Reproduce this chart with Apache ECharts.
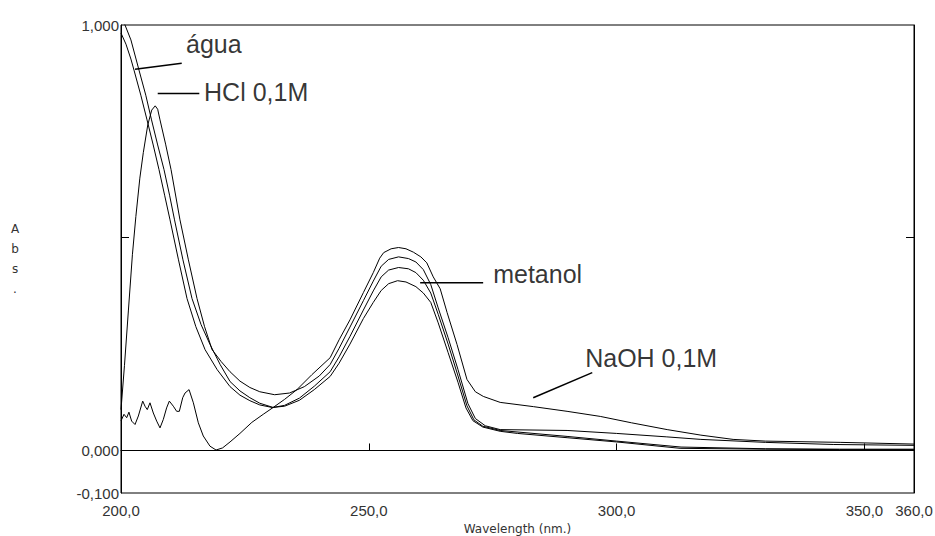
<!DOCTYPE html>
<html><head><meta charset="utf-8">
<script src="https://cdn.jsdelivr.net/npm/echarts@6/dist/echarts.min.js"></script>
<style>html,body{margin:0;padding:0;background:#fff}#c{width:935px;height:536px}</style>
</head><body><div id="c"></div>
<script>
// ---- água ----
const wlAgua = [200, 201, 202, 202.62, 204, 205.25, 206.5, 207.67, 208.8, 209.89, 211.6, 213.32, 215.1, 216.96, 219.4, 222, 224, 226, 228, 230.5, 233, 236, 239, 242.2, 244, 246.2, 248.9, 250.9, 252.5, 254, 255.8, 257.5, 259.5, 261, 262.5, 264, 266, 268, 269.6, 271, 273, 276.5, 280, 290, 300, 312.8, 330, 345, 360];
const absAgua = [0.981, 0.955, 0.92, 0.894, 0.835, 0.777, 0.718, 0.660, 0.600, 0.542, 0.448, 0.357, 0.291, 0.237, 0.190, 0.150, 0.130, 0.117, 0.107, 0.101, 0.104, 0.118, 0.143, 0.174, 0.205, 0.25, 0.31, 0.348, 0.376, 0.392, 0.399, 0.396, 0.385, 0.37, 0.348, 0.30, 0.23, 0.16, 0.10, 0.07, 0.055, 0.045, 0.040, 0.030, 0.020, 0.005, 0.003, 0.002, 0.002];
// ---- HCl 0,1M ----
const wlHCl = [200, 200.81, 202, 203.63, 205, 206.16, 207.4, 208.68, 209.8, 210.8, 212.5, 214.33, 216.15, 217.97, 220, 222, 224, 226, 228, 230.7, 233, 236, 239, 242.2, 244, 246.2, 248.9, 250.9, 252.5, 254, 256, 258, 259.5, 261, 262.5, 264, 266, 268, 269.8, 271.2, 273, 276.5, 290, 300, 313, 330, 345, 360];
const absHCl = [1.02, 1.0, 0.965, 0.894, 0.835, 0.777, 0.718, 0.660, 0.600, 0.542, 0.448, 0.357, 0.296, 0.249, 0.202, 0.162, 0.140, 0.124, 0.111, 0.101, 0.106, 0.123, 0.151, 0.185, 0.22, 0.268, 0.33, 0.375, 0.408, 0.424, 0.430, 0.427, 0.418, 0.40, 0.37, 0.32, 0.25, 0.175, 0.105, 0.072, 0.057, 0.047, 0.033, 0.022, 0.008, 0.004, 0.003, 0.003];
// ---- metanol ----
const wlMetanol = [200, 200.7, 201.5, 202.3, 203, 203.8, 204.5, 205.4, 206.2, 206.9, 207.4, 207.87, 209, 210.1, 211.9, 213.6, 215.34, 216.86, 218.37, 220.2, 222, 224, 226, 228, 231, 234, 237, 240, 242.2, 244, 246.2, 248.9, 250.9, 252.5, 254, 256, 258, 259.5, 261, 262.5, 264, 266, 268, 270, 271.5, 273.5, 276.5, 290, 300, 310, 317, 330, 343.7, 360];
const absMetanol = [0.096, 0.20, 0.33, 0.46, 0.55, 0.64, 0.70, 0.765, 0.80, 0.81, 0.802, 0.777, 0.72, 0.660, 0.542, 0.448, 0.357, 0.291, 0.237, 0.209, 0.185, 0.163, 0.148, 0.138, 0.131, 0.135, 0.15, 0.175, 0.202, 0.24, 0.29, 0.352, 0.398, 0.433, 0.449, 0.455, 0.451, 0.443, 0.425, 0.39, 0.335, 0.265, 0.19, 0.11, 0.075, 0.058, 0.049, 0.047, 0.040, 0.032, 0.026, 0.019, 0.014, 0.012];
// ---- NaOH 0,1M ----
const wlNaOH = [200, 200.14, 200.6, 201.15, 201.6, 202.15, 202.83, 203.5, 204.38, 204.84, 205.3, 205.85, 206.52, 207.2, 207.87, 208.54, 209.2, 209.75, 210.56, 211.23, 211.77, 212.45, 212.92, 213.73, 214.6, 215.6, 216.6, 217.96, 219.18, 220.5, 222, 224, 226.4, 228.7, 230.7, 233, 235.5, 238.5, 242.2, 244, 246.2, 248.9, 250.9, 252.2, 253, 254.5, 256, 257.5, 259, 260.5, 261.7, 263, 264.4, 265.8, 267.8, 269.8, 271.5, 273.1, 276.5, 283.2, 290, 296.7, 303, 310.2, 317, 323.5, 330, 345.1, 360];
const absNaOH = [0.07, 0.073, 0.085, 0.077, 0.090, 0.069, 0.061, 0.081, 0.116, 0.104, 0.096, 0.112, 0.088, 0.069, 0.053, 0.073, 0.100, 0.116, 0.104, 0.092, 0.092, 0.124, 0.135, 0.143, 0.112, 0.065, 0.034, 0.010, 0.001, 0.006, 0.020, 0.040, 0.066, 0.085, 0.101, 0.120, 0.143, 0.178, 0.218, 0.26, 0.307, 0.371, 0.418, 0.452, 0.465, 0.474, 0.477, 0.474, 0.466, 0.455, 0.441, 0.408, 0.38, 0.324, 0.249, 0.167, 0.138, 0.127, 0.113, 0.103, 0.092, 0.080, 0.065, 0.049, 0.036, 0.026, 0.022, 0.019, 0.015];

// ---- axis ticks / labels ----
const xLabelValues = [200, 250, 300, 350, 360];
const xTickValues = [250, 300, 350];
const yLabelValues = [-0.1, 0, 1];
const yTickValues = [0.5];

// ---- annotations (data units) ----
const annoNames = ['água', 'HCl 0,1M', 'metanol', 'NaOH 0,1M'];
const annoX = [213.12, 216.75, 275.09, 293.66];
const annoY = [0.955, 0.843, 0.4155, 0.218];
const leaderX1 = [202.83, 207.41, 260.36, 283.17];
const leaderY1 = [0.896, 0.839, 0.394, 0.124];
const leaderX2 = [212.25, 215.8, 273.07, 295.08];
const leaderY2 = [0.910, 0.839, 0.394, 0.183];

const zip = (a, b) => a.map((x, i) => [x, b[i]]);
const chart = echarts.init(document.getElementById('c'), null, {renderer: 'svg'});
const tickFont = {color: '#333', fontSize: 15, fontFamily: 'Liberation Sans'};
const curve = (name, wl, ab) => ({
  name, type: 'line', data: zip(wl, ab), showSymbol: false, symbol: 'none',
  lineStyle: {color: '#000', width: 1}, silent: true, z: 3
});
const series = [
  curve('água', wlAgua, absAgua),
  curve('HCl 0,1M', wlHCl, absHCl),
  curve('metanol', wlMetanol, absMetanol),
  Object.assign(curve('NaOH 0,1M', wlNaOH, absNaOH), {
    markLine: {silent: true, symbol: ['none', 'none'], label: {show: false},
      lineStyle: {color: '#000', width: 1, type: 'solid'}, data: [{yAxis: 0}], animation: false}
  })
];
annoNames.forEach((n, i) => {
  series.push({type: 'line', data: [[leaderX1[i], leaderY1[i]], [leaderX2[i], leaderY2[i]]],
    showSymbol: false, symbol: 'none', lineStyle: {color: '#000', width: 1.5}, silent: true, z: 4});
});
series.push({type: 'scatter', symbolSize: 0, silent: true, z: 5,
  data: annoNames.map((n, i) => [annoX[i], annoY[i], n]),
  label: {show: true, position: 'right', distance: 0, formatter: p => p.data[2],
    color: '#000', fontSize: 25, fontFamily: 'Liberation Sans'}});

chart.setOption({
  animation: false,
  backgroundColor: '#fff',
  grid: {left: 121, right: 21, top: 25, bottom: 43, containLabel: false, outerBoundsMode: 'none',
    show: true, borderColor: '#000', borderWidth: 1, backgroundColor: 'transparent'},
  xAxis: {
    type: 'value', min: 200, max: 360, interval: 50,
    axisLine: {show: true, lineStyle: {color: '#000', width: 1}},
    axisTick: {show: true, inside: true, length: 7, customValues: xTickValues, lineStyle: {color: '#000'}},
    axisLabel: Object.assign({customValues: xLabelValues, margin: 10,
      formatter: v => v.toFixed(1).replace('.', ',')}, tickFont),
    splitLine: {show: false},
    name: 'Wavelength (nm.)', nameLocation: 'middle', nameGap: 26,
    nameTextStyle: {color: '#333', fontSize: 12, fontFamily: 'DejaVu Sans'}
  },
  yAxis: [{
    type: 'value', min: -0.1, max: 1, interval: 0.1,
    axisLine: {show: true, lineStyle: {color: '#000', width: 1}},
    axisTick: {show: true, inside: true, length: 8, customValues: yTickValues, lineStyle: {color: '#000'}},
    axisLabel: Object.assign({customValues: yLabelValues, margin: 2,
      formatter: v => v.toFixed(3).replace('.', ',')}, tickFont),
    splitLine: {show: false},
    name: 'A\nb\ns\n.', nameLocation: 'middle', nameGap: 106, nameRotate: 0,
    nameTextStyle: {color: '#333', fontSize: 12, fontFamily: 'DejaVu Sans', align: 'center', verticalAlign: 'middle', lineHeight: 20, padding: [8, 0, 0, 0]}
  }, {
    type: 'value', min: -0.1, max: 1, interval: 0.1, position: 'right',
    axisLine: {show: true, lineStyle: {color: '#000', width: 1}},
    axisTick: {show: true, inside: true, length: 8, customValues: yTickValues, lineStyle: {color: '#000'}},
    axisLabel: {show: false}, splitLine: {show: false}
  }],
  series
});
</script>
</body></html>
